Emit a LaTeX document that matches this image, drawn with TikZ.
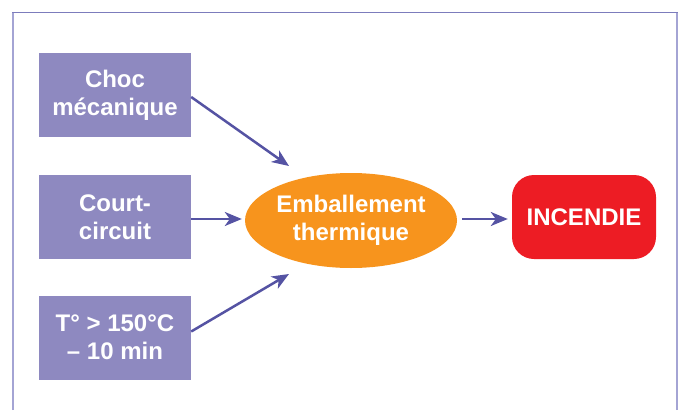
\documentclass[tikz,border=0pt]{standalone}
\usepackage{fontspec}
\setmainfont{Liberation Sans}
\usetikzlibrary{shapes.geometric,arrows.meta}
\definecolor{boxpurple}{HTML}{8E89C0}
\definecolor{arrowblue}{HTML}{5553A3}
\definecolor{emborange}{HTML}{F7941D}
\definecolor{firered}{HTML}{ED1C24}
\definecolor{frameside}{HTML}{A4A4D4}
\definecolor{frametop}{HTML}{7C7CBC}
\tikzset{
  cause/.style={fill=boxpurple, minimum width=152pt, minimum height=84pt, inner sep=0pt,
    text=white, font=\fontsize{24}{28}\selectfont\bfseries, align=center},
  event/.style={ellipse, fill=emborange, minimum width=212pt, minimum height=95pt, inner sep=0pt,
    text=white, font=\fontsize{24}{28}\selectfont\bfseries, align=center},
  result/.style={rounded corners=22pt, fill=firered, minimum width=144pt, minimum height=84pt, inner sep=0pt,
    text=white, font=\fontsize{24}{28}\selectfont\bfseries, align=center},
  arr/.style={draw=arrowblue, line width=2.5pt, -{Stealth[length=17pt,width=14pt,inset=5pt]}},
}
\begin{document}
\begin{tikzpicture}[x=1pt,y=-1pt]
\useasboundingbox (0,0) rectangle (680,410);
\draw[frameside, line width=1.6pt] (13,410) -- (13,12.5);
\draw[frameside, line width=1.6pt] (677,410) -- (677,12.5);
\draw[frametop, line width=1.6pt] (12.2,12.5) -- (677.8,12.5);

\node[cause] (b1) at (115,95) {Choc\\mécanique};
\node[cause] (b2) at (115,217) {Court-\\circuit};
\node[cause] (b3) at (115,337.5) {T° > 150°C\\– 10 min};
\node[event] (emb) at (351,220.5) {Emballement\\thermique};
\node[result] (inc) at (584,217) {INCENDIE};

\coordinate (t1) at (289,166);
\coordinate (t3) at (289,274);
\draw[arr] ([yshift=-2pt]b1.east) -- (t1);
\draw[arr] ([yshift=6pt]b3.east) -- (t3);
\draw[arr, shorten >=3pt] (b2.east |- 0,219) -- (emb.west |- 0,219);
\draw[arr, shorten <=5pt, shorten >=4pt] (emb.east |- 0,219) -- (inc.west |- 0,219);
\end{tikzpicture}
\end{document}
